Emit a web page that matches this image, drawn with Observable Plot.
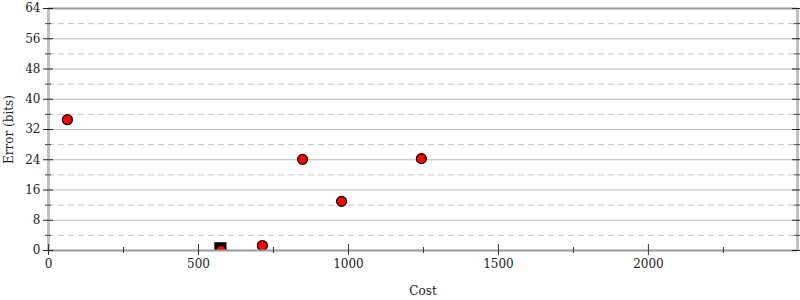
<!DOCTYPE html>
<html><head><meta charset="utf-8">
<script src="https://cdn.jsdelivr.net/npm/d3@7"></script>
<script src="https://cdn.jsdelivr.net/npm/@observablehq/plot@0.6"></script>
<style>body{margin:0;background:#fff}svg{font-family:"DejaVu Serif",serif}</style>
</head><body><div id="chart"></div>
<script>
const costs = [63, 713, 847, 977, 1243, 575];
const errors = [34.6, 1.3, 24.1, 13.0, 24.3, 0.0];
const squareCost = [573];
const squareError = [0.6];
const xMajor = [0, 500, 1000, 1500, 2000];
const xMinor = [250, 750, 1250, 1750, 2250];
const yMajor = [0, 8, 16, 24, 32, 40, 48, 56, 64];
const yMinor = [4, 12, 20, 28, 36, 44, 52, 60];
const xMax = 2497, yMax = 64;

const pts = costs.map((c, i) => ({cost: c, err: errors[i]}));
const sq = squareCost.map((c, i) => ({cost: c, err: squareError[i]}));
const gridSolid = yMajor.filter(v => v > 0 && v < yMax);

const chart = Plot.plot({
  width: 800, height: 300,
  marginLeft: 48, marginRight: 3, marginTop: 8, marginBottom: 50,
  style: {fontFamily: "DejaVu Serif, serif", fontSize: "12px", background: "#fff", overflow: "visible"},
  x: {domain: [0, xMax]},
  y: {domain: [0, yMax]},
  marks: [
    Plot.ruleY(gridSolid, {stroke: "#bbb", strokeWidth: 1}),
    Plot.ruleY(yMinor, {stroke: "#c4c4c4", strokeWidth: 1, strokeDasharray: "6,4"}),
    Plot.ruleX([0], {stroke: "#c0c0c0", strokeWidth: 3}),
    Plot.ruleX([xMax], {stroke: "#c0c0c0", strokeWidth: 3}),
    Plot.dot(sq, {x: "cost", y: "err", symbol: "square", r: 6, fill: "#000", stroke: "#000", clip: true}),
    Plot.dot(pts, {x: "cost", y: "err", r: 5, fill: "#ff0000", stroke: "#000", strokeWidth: 1.2, clip: true}),
    Plot.ruleY([0, yMax], {stroke: "#999", strokeWidth: 2}),
    // x ticks
    Plot.ruleX(xMajor, {y1: 0, y2: 0, insetTop: -6, insetBottom: -5, stroke: "#333", strokeWidth: 1}),
    Plot.ruleX(xMinor, {y1: 0, y2: 0, insetTop: -3, insetBottom: -3, stroke: "#333", strokeWidth: 1}),
    // y ticks left
    Plot.ruleY(yMajor, {x1: 0, x2: 0, insetLeft: -5, insetRight: -5, stroke: "#222", strokeWidth: 1}),
    Plot.ruleY(yMinor, {x1: 0, x2: 0, insetLeft: -3, insetRight: -3, stroke: "#444", strokeWidth: 1}),
    // y ticks right
    Plot.ruleY(yMajor, {x1: xMax, x2: xMax, insetLeft: -5, insetRight: -5, stroke: "#222", strokeWidth: 1}),
    Plot.ruleY(yMinor, {x1: xMax, x2: xMax, insetLeft: -3, insetRight: -3, stroke: "#444", strokeWidth: 1}),
    Plot.axisX({ticks: xMajor, tickSize: 0, tickPadding: 9, tickFormat: d => String(d), fill: "#222",
      label: "Cost", labelAnchor: "center", labelOffset: 44, labelArrow: "none"}),
    Plot.axisY({ticks: yMajor, tickSize: 0, tickPadding: 8, tickFormat: d => String(d), fill: "#222",
      label: "Error (bits)", labelAnchor: "center", labelOffset: 44, labelArrow: "none"})
  ]
});
document.getElementById("chart").appendChild(chart);
</script></body></html>
